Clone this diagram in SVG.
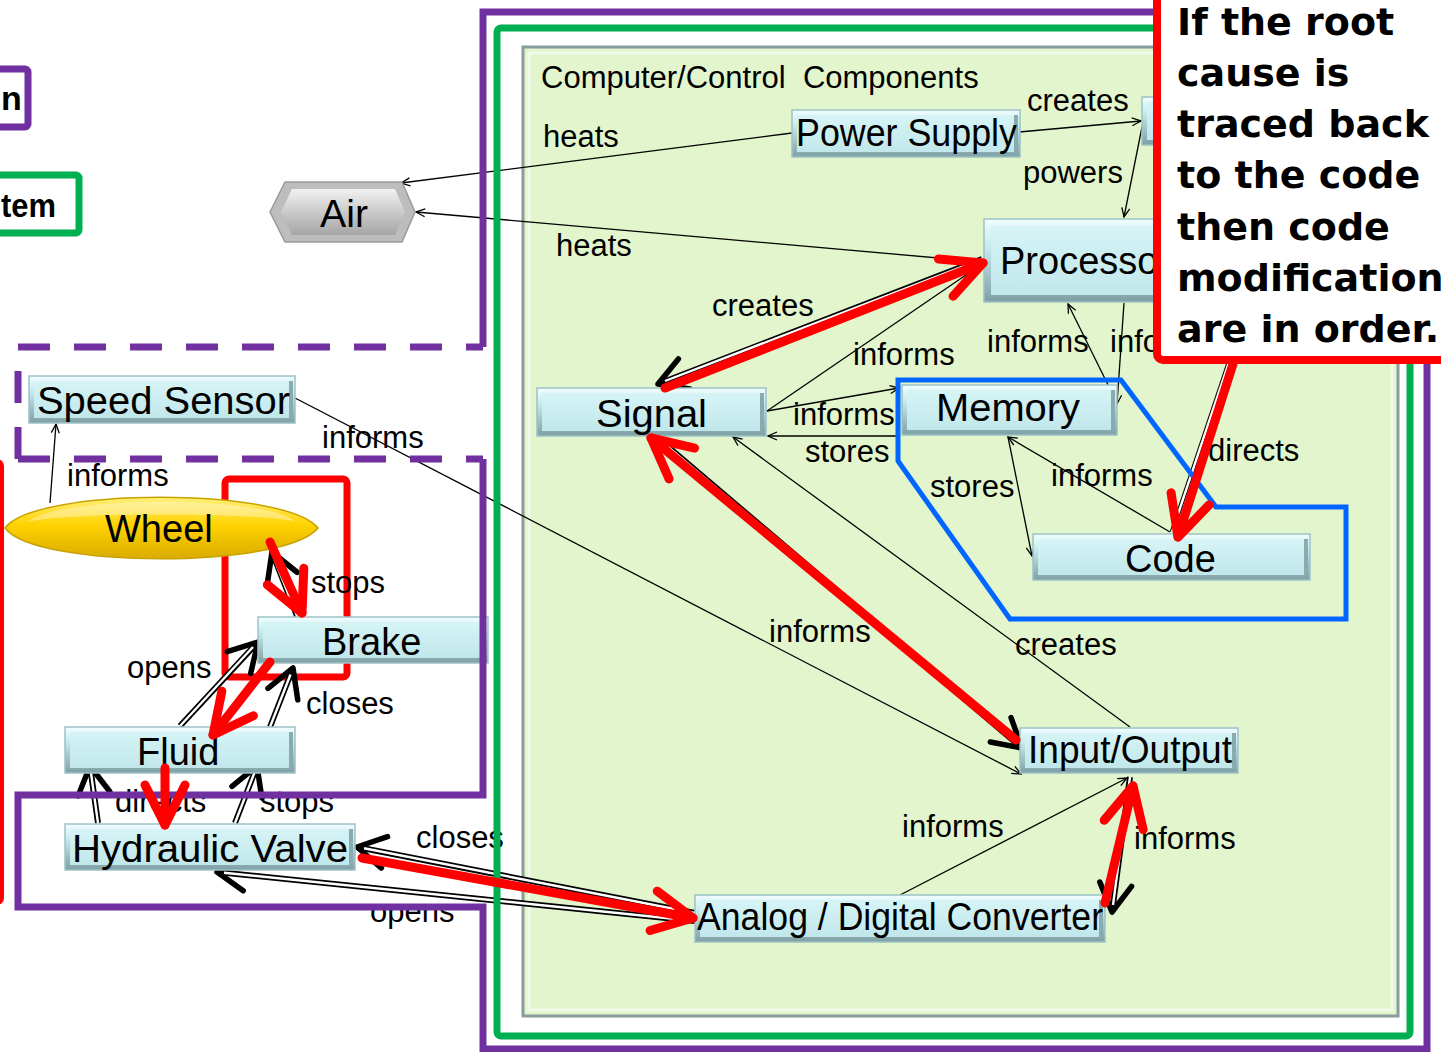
<svg xmlns="http://www.w3.org/2000/svg" width="1441" height="1052" viewBox="0 0 1441 1052">
<style>
.thin{fill:none;stroke:#000;stroke-width:1.3;marker-end:url(#ta)}
.dbl{fill:none;stroke:#000;stroke-width:6;marker-end:url(#tb)}
.dbln{fill:none;stroke:#000;stroke-width:4.5}
.dblw{fill:none;stroke:#fff;stroke-width:2.4}
.red{fill:none;stroke:#FF0000;stroke-width:9;stroke-linecap:round;marker-end:url(#tr)}
.lb{font-family:"Liberation Sans",Arial,sans-serif;font-size:31px;fill:#000}
.nt{font-family:"Liberation Sans",Arial,sans-serif;font-size:38px;fill:#000}
.co{font-family:"DejaVu Sans",Verdana,sans-serif;font-size:38px;font-weight:bold;fill:#000}
.lg{font-family:"Liberation Sans",Arial,sans-serif;font-size:34px;font-weight:bold;fill:#000}
.nb{fill:url(#gNode);stroke:#9DC2C6;stroke-width:1.5}
.nf{fill:url(#gFace)}
.nr{fill:#89ABAF}
.pd{fill:none;stroke:#7030A0;stroke-width:7;stroke-dasharray:32 24}
</style>
<defs>
<linearGradient id="gNode" x1="0" y1="0" x2="0" y2="1">
<stop offset="0" stop-color="#F2FDFE"/><stop offset="0.3" stop-color="#C9EDF0"/><stop offset="1" stop-color="#7E9FA3"/>
</linearGradient>
<linearGradient id="gFace" x1="0" y1="0" x2="0" y2="1">
<stop offset="0" stop-color="#D6F4F6"/><stop offset="1" stop-color="#C1E7EB"/>
</linearGradient>
<linearGradient id="gAir" x1="0" y1="0" x2="0" y2="1">
<stop offset="0" stop-color="#F2F2F2"/><stop offset="0.5" stop-color="#CACACA"/><stop offset="1" stop-color="#A6A6A6"/>
</linearGradient>
<linearGradient id="gWheel" x1="0" y1="0" x2="0" y2="1">
<stop offset="0" stop-color="#FFF07A"/><stop offset="0.45" stop-color="#FFD200"/><stop offset="1" stop-color="#D9AC00"/>
</linearGradient>
<marker id="ta" markerUnits="userSpaceOnUse" viewBox="-12 -6 14 12" markerWidth="14" markerHeight="12" refX="0" refY="0" orient="auto">
<path d="M-9,-4 L0,0 L-9,4" fill="none" stroke="#000" stroke-width="1.3"/>
</marker>
<marker id="tb" markerUnits="userSpaceOnUse" viewBox="-34 -22 40 44" markerWidth="40" markerHeight="44" refX="0" refY="0" orient="auto">
<path d="M-28,-16 L0,0 L-28,16" fill="none" stroke="#000" stroke-width="5.5" stroke-linecap="round" stroke-linejoin="round"/>
</marker>
<marker id="tr" markerUnits="userSpaceOnUse" viewBox="-50 -30 60 60" markerWidth="60" markerHeight="60" refX="0" refY="0" orient="auto">
<path d="M-40,-20 L0,0 L-40,20" fill="none" stroke="#FF0000" stroke-width="9" stroke-linecap="round" stroke-linejoin="round"/>
</marker>
</defs>
<rect x="0" y="0" width="1441" height="1052" fill="#FFFFFF"/>

<g id="legend">
<rect x="-50" y="69" width="78" height="58" rx="3" fill="#FFFFFF" stroke="#7030A0" stroke-width="7"/>
<text class="lg" x="1" y="110" font-size="28">n</text>
<rect x="-50" y="175" width="129" height="58" rx="3" fill="#FFFFFF" stroke="#00B050" stroke-width="7"/>
<text class="lg" x="1" y="217" textLength="55" lengthAdjust="spacingAndGlyphs">tem</text>
<rect x="-100" y="462" width="101" height="440" rx="4" fill="none" stroke="#FF0000" stroke-width="6"/>
</g>

<g id="panel">
<rect x="523" y="47" width="875" height="969" fill="#E2F5CC" stroke="#8A9C9C" stroke-width="3"/>
<rect x="529" y="53" width="863" height="957" fill="none" stroke="#F1FAE8" stroke-width="3"/>
<text class="lb" x="541" y="88">Computer/Control&#160; Components</text>
</g>

<rect id="wheel-brake-box" x="225" y="479" width="122" height="198" rx="4" fill="none" stroke="#FF0000" stroke-width="7"/>

<g id="connectors">
<path class="thin" d="M792,133 L401,183"/>
<path class="thin" d="M984,262 L416,212"/>
<path class="thin" d="M1019,132 L1141,121"/>
<path class="thin" d="M1142,127 L1124,217"/>
<path class="thin" d="M767,411 L982,264"/>
<path class="thin" d="M767,411 L899,388"/>
<path class="thin" d="M900,436 L768,436"/>
<path class="thin" d="M1117,403 L1068,304"/>
<path class="thin" d="M1124,303 L1117,404"/>
<path class="thin" d="M1170,532 L1008,437"/>
<path class="thin" d="M1008,437 L1032,556"/>
<path class="thin" d="M1130,727 L733,437"/>
<path class="thin" d="M295,398 L1021,774"/>
<path class="thin" d="M900,895 L1127,778"/>
<path class="thin" d="M50,503 L56,424"/>
<path class="dbln" d="M1229,362 L1172,532"/>
<path class="dblw" d="M1229,362 L1172,532" stroke-width="1.6"/>
<path class="dbl" d="M982,259 L658,384"/>
<path class="dblw" d="M982,259 L665,381"/>
<path class="dbl" d="M660,440 L1022,748"/>
<path class="dblw" d="M660,440 L1016,743"/>
<path class="dbl" d="M1130,777 L1112,912"/>
<path class="dblw" d="M1130,777 L1113,905"/>
<path class="dbl" d="M297,616 L272,552"/>
<path class="dblw" d="M297,616 L274,558"/>
<path class="dbl" d="M180,726 L258,642"/>
<path class="dblw" d="M180,726 L253,647"/>
<path class="dbl" d="M270,727 L293,668"/>
<path class="dblw" d="M270,727 L290.5,674.5"/>
<path class="dbl" d="M98,823 L90,766"/>
<path class="dblw" d="M98,823 L91,773"/>
<path class="dbl" d="M235,823 L257,766"/>
<path class="dblw" d="M235,823 L254.5,772.5"/>
<path class="dbl" d="M695,913 L357,847"/>
<path class="dblw" d="M695,913 L364,848.3"/>
<path class="dbl" d="M695,921 L217,872"/>
<path class="dblw" d="M695,921 L224,872.7"/>
</g>

<g id="node-air">
<polygon points="270,212 285,182 402,182 415,212 402,242 285,242" fill="#BDBDBD" stroke="#9A9A9A" stroke-width="1.5"/>
<polygon points="281,212 292,189 395,189 405,212 395,235 292,235" fill="url(#gAir)"/>
<text class="nt" x="320" y="227" textLength="48" lengthAdjust="spacingAndGlyphs">Air</text>
</g>
<g id="node-power-supply">
<rect class="nb" x="792" y="110" width="228" height="47"/><rect class="nf" x="797" y="115" width="217" height="37"/><rect class="nr" x="1014" y="115" width="4" height="37"/>
<text class="nt" x="796" y="146" font-size="32" textLength="221" lengthAdjust="spacingAndGlyphs">Power Supply</text>
</g>
<g id="node-hidden">
<rect class="nb" x="1142" y="97" width="70" height="48"/><rect class="nf" x="1147" y="102" width="59" height="38"/>
</g>
<g id="node-processor">
<rect class="nb" x="984" y="219" width="240" height="83"/><rect class="nf" x="991" y="226" width="226" height="69"/>
<text class="nt" x="1000" y="274" font-size="36">Processo</text>
</g>
<g id="node-signal">
<rect class="nb" x="537" y="388" width="229" height="48"/><rect class="nf" x="542" y="393" width="218" height="38"/><rect class="nr" x="760" y="393" width="4" height="38"/>
<text class="nt" x="596" y="427" textLength="111" lengthAdjust="spacingAndGlyphs">Signal</text>
</g>
<g id="node-memory">
<rect class="nb" x="902" y="385" width="215" height="50"/><rect class="nf" x="907" y="390" width="204" height="40"/><rect class="nr" x="1111" y="390" width="4" height="40"/>
<text class="nt" x="936" y="421" textLength="144" lengthAdjust="spacingAndGlyphs">Memory</text>
</g>
<g id="node-code">
<rect class="nb" x="1033" y="534" width="277" height="46"/><rect class="nf" x="1038" y="539" width="266" height="36"/><rect class="nr" x="1304" y="539" width="4" height="36"/>
<text class="nt" x="1125" y="572">Code</text>
</g>
<g id="node-io">
<rect class="nb" x="1020" y="728" width="218" height="45"/><rect class="nf" x="1025" y="733" width="207" height="35"/><rect class="nr" x="1232" y="733" width="4" height="35"/>
<text class="nt" x="1028" y="763" font-size="36" textLength="204" lengthAdjust="spacingAndGlyphs">Input/Output</text>
</g>
<g id="node-adc">
<rect class="nb" x="695" y="895" width="410" height="47"/><rect class="nf" x="700" y="900" width="399" height="37"/><rect class="nr" x="1099" y="900" width="4" height="37"/>
<text class="nt" x="697" y="930" font-size="36" textLength="406" lengthAdjust="spacingAndGlyphs">Analog / Digital Converter</text>
</g>
<g id="node-speed-sensor">
<rect class="nb" x="29" y="376" width="266" height="47"/><rect class="nf" x="34" y="381" width="255" height="37"/><rect class="nr" x="289" y="381" width="4" height="37"/>
<text class="nt" x="37" y="414" textLength="253" lengthAdjust="spacingAndGlyphs">Speed Sensor</text>
</g>
<g id="node-wheel">
<path d="M5,528 C35,487 285,487 318,528 C285,569 35,569 5,528 Z" fill="url(#gWheel)" stroke="#C9A200" stroke-width="1.5"/>
<path d="M28,522 C60,495 265,495 296,522 C265,512 60,512 28,522 Z" fill="#FFFFFF" fill-opacity="0.35"/>
<text class="nt" x="105" y="542" font-size="40">Wheel</text>
</g>
<g id="node-brake">
<rect class="nb" x="258" y="617" width="230" height="46"/><rect class="nf" x="263" y="622" width="219" height="36"/><rect class="nr" x="482" y="622" width="4" height="36"/>
<text class="nt" x="322" y="655">Brake</text>
</g>
<g id="node-fluid">
<rect class="nb" x="65" y="727" width="230" height="46"/><rect class="nf" x="70" y="732" width="219" height="36"/><rect class="nr" x="289" y="732" width="4" height="36"/>
<text class="nt" x="137" y="765">Fluid</text>
</g>
<g id="node-hydraulic-valve">
<rect class="nb" x="65" y="824" width="290" height="46"/><rect class="nf" x="70" y="829" width="279" height="36"/><rect class="nr" x="349" y="829" width="4" height="36"/>
<text class="nt" x="72" y="862" textLength="276" lengthAdjust="spacingAndGlyphs">Hydraulic Valve</text>
</g>

<g id="labels">
<text class="lb" x="543" y="147">heats</text>
<text class="lb" x="556" y="256">heats</text>
<text class="lb" x="1027" y="111">creates</text>
<text class="lb" x="1023" y="183">powers</text>
<text class="lb" x="712" y="316">creates</text>
<text class="lb" x="853" y="365">informs</text>
<text class="lb" x="793" y="425">informs</text>
<text class="lb" x="805" y="462">stores</text>
<text class="lb" x="987" y="352">informs</text>
<text class="lb" x="1110" y="352">info</text>
<text class="lb" x="930" y="497">stores</text>
<text class="lb" x="1051" y="486">informs</text>
<text class="lb" x="1208" y="461">directs</text>
<text class="lb" x="1015" y="655">creates</text>
<text class="lb" x="769" y="642">informs</text>
<text class="lb" x="322" y="448">informs</text>
<text class="lb" x="67" y="486">informs</text>
<text class="lb" x="311" y="593">stops</text>
<text class="lb" x="127" y="678">opens</text>
<text class="lb" x="306" y="714">closes</text>
<text class="lb" x="115" y="812">directs</text>
<text class="lb" x="260" y="812">stops</text>
<text class="lb" x="416" y="848">closes</text>
<text class="lb" x="370" y="922">opens</text>
<text class="lb" x="902" y="837">informs</text>
<text class="lb" x="1134" y="849">informs</text>
</g>

<g id="frames">
<path d="M483,459 V795 H18 V907 H483 V1049 H1427 V12 H483 V347" fill="none" stroke="#7030A0" stroke-width="7"/>
<path class="pd" d="M18,347 H483"/>
<path class="pd" d="M18,459 H483"/>
<path class="pd" d="M18,459 V347"/>
<rect x="497" y="28" width="913" height="1008" rx="4" fill="none" stroke="#00B050" stroke-width="7"/>
<polygon points="898,380 1121,380 1216,507 1346,507 1346,619 1010,619 898,461" fill="none" stroke="#0066FF" stroke-width="5"/>
</g>

<g id="red-path">
<path class="red" d="M665,388 L983,263"/>
<path class="red" d="M1016,740 L651,438"/>
<path class="red" d="M1105,903 L1133,786"/>
<path class="red" d="M270,542 L302,613"/>
<path class="red" d="M270,662 L213,735"/>
<path class="red" d="M165,768 L165,825"/>
<path class="red" d="M362,858 L693,918"/>
<path class="red" d="M1233,364 L1178,537"/>
</g>

<g id="callout">
<rect x="1157" y="-20" width="300" height="380" rx="6" fill="#FFFFFF" stroke="#FF0000" stroke-width="8"/>
<text class="co" x="1177" y="35">If the root</text>
<text class="co" x="1177" y="86">cause is</text>
<text class="co" x="1177" y="137">traced back</text>
<text class="co" x="1177" y="188">to the code</text>
<text class="co" x="1177" y="240">then code</text>
<text class="co" x="1177" y="291">modification</text>
<text class="co" x="1177" y="342">are in order.</text>
</g>
</svg>
